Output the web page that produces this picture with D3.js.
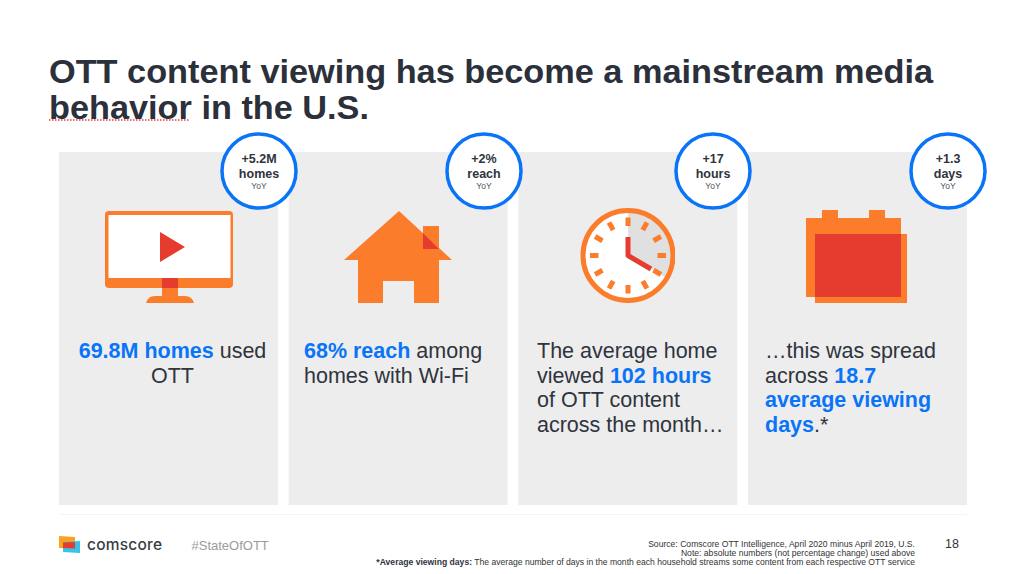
<!DOCTYPE html>
<html>
<head>
<meta charset="utf-8">
<script src="https://cdn.jsdelivr.net/npm/d3@7"></script>
<style>
html, body { margin: 0; padding: 0; background: #fff; }
text { font-family: "Liberation Sans", Arial, sans-serif; }
</style>
</head>
<body>
<script>
var titleLines = ["OTT content viewing has become a mainstream media", "behavior in the U.S."];
var cardIds = ["homes", "reach", "hours", "days"];
var deltaValues = ["+5.2M", "+2%", "+17", "+1.3"];
var deltaUnits = ["homes", "reach", "hours", "days"];
var deltaPeriod = "YoY";
// 正文: 每行是若干片段, 1 表示蓝色粗体
var bodyLines = [
    [[["69.8M homes", 1], [" used", 0]], [["OTT", 0]]],
    [[["68% reach", 1], [" among", 0]], [["homes with Wi-Fi", 0]]],
    [[["The average home", 0]], [["viewed ", 0], ["102 hours", 1]], [["of OTT content", 0]], [["across the month…", 0]]],
    [[["…this was spread", 0]], [["across ", 0], ["18.7", 1]], [["average viewing", 1]], [["days", 1], [".*", 0]]]
];
var clockTicks = d3.range(12);
var sourceLines = [
    "Source: Comscore OTT Intelligence, April 2020 minus April 2019, U.S.",
    "Note: absolute numbers (not percentage change) used above"
];
var orange = "#fb7d2b", red = "#e63c30", blue = "#0a74f8", ink = "#2f343d", grey = "#ededed";

var svg = d3.select("body").append("svg").attr("width", 1024).attr("height", 574)
    .style("display", "block");

// 标题
svg.selectAll("text.title").data(titleLines).enter().append("text")
    .attr("class", "title")
    .attr("x", 49)
    .attr("y", function(d, i) { return 83 + i * 36; })
    .attr("font-size", 34)
    .attr("font-weight", "bold")
    .attr("fill", "#2b303b")
    .attr("lengthAdjust", "spacingAndGlyphs")
    .attr("textLength", function(d, i) { return i == 0 ? 884 : 320; })
    .text(function(d) { return d; });

// 拼写检查的红色虚线
svg.append("line").attr("x1", 49).attr("x2", 189).attr("y1", 120).attr("y2", 120)
    .attr("stroke", "#e8404a").attr("stroke-width", 1.5).attr("stroke-dasharray", "1.5 1.5");

// 卡片
var x = d3.scaleBand().domain(cardIds).range([59, 967]).paddingInner(0.0465);
var cards = svg.selectAll("g.card").data(cardIds).enter().append("g").attr("class", "card");
cards.append("rect")
    .attr("x", function(d) { return x(d); })
    .attr("y", 152)
    .attr("width", x.bandwidth())
    .attr("height", 353)
    .attr("fill", grey);

svg.append("line").attr("x1", 59).attr("x2", 967).attr("y1", 514.5).attr("y2", 514.5)
    .attr("stroke", "#f4f4f4");

// 电视图标
function drawMonitor(g) {
    g.append("rect").attr("x", 105).attr("y", 211).attr("width", 128).attr("height", 77).attr("rx", 4).attr("fill", orange);
    g.append("rect").attr("x", 108.5).attr("y", 215).attr("width", 122).attr("height", 63).attr("fill", "#fff");
    g.append("rect").attr("x", 162).attr("y", 278).attr("width", 16).attr("height", 10).attr("fill", red);
    g.append("rect").attr("x", 162).attr("y", 288).attr("width", 16).attr("height", 9).attr("fill", orange);
    g.append("path").attr("d", "M146,303 Q148,296 155,296 H185 Q192,296 194,303 Z").attr("fill", orange);
    g.append("path").attr("d", "M160,232 L185,247 L160,262 Z").attr("fill", red);
}

// 房子图标
function drawHouse(g) {
    g.append("rect").attr("x", 423).attr("y", 226).attr("width", 16).attr("height", 23).attr("fill", orange);
    g.append("path")
        .attr("d", "M399,211 L452,260 H439 V303 H414 V281 H383 V303 H358 V260 H344 Z")
        .attr("fill", orange);
    g.append("path").attr("d", "M423,233 L439,249 H423 Z").attr("fill", red);
}

// 时钟图标
function drawClock(g) {
    var cx = 628, cy = 255.5;
    g.append("clipPath").attr("id", "clockClip").append("rect")
        .attr("x", 570).attr("y", 200).attr("width", 105).attr("height", 110);
    var face = g.append("g").attr("clip-path", "url(#clockClip)");
    face.append("circle").attr("cx", cx).attr("cy", cy).attr("r", 45).attr("fill", "#fff");
    face.append("path")
        .attr("transform", "translate(" + cx + "," + cy + ")")
        .attr("d", d3.arc().innerRadius(0).outerRadius(45).startAngle(0).endAngle(Math.PI * 2 / 3)())
        .attr("fill", "#dfe0df");
    face.append("circle").attr("cx", cx).attr("cy", cy).attr("r", 45).attr("fill", "none")
        .attr("stroke", orange).attr("stroke-width", 5);
    face.selectAll("rect.tick").data(clockTicks).enter().append("rect")
        .attr("class", "tick")
        .attr("x", -2.5).attr("y", -38).attr("width", 5).attr("height", 8.5)
        .attr("fill", orange)
        .attr("transform", function(d) { return "translate(" + cx + "," + cy + ") rotate(" + d * 30 + ")"; });
    face.append("path").attr("d", "M628,237 V255.5 L651,269").attr("fill", "none")
        .attr("stroke", red).attr("stroke-width", 5).attr("stroke-linejoin", "round");
}

// 日历图标
function drawCalendar(g) {
    g.append("path")
        .attr("d", "M806,218 H822 V210 H838 V218 H869 V210 H885 V218 H901 V297 H806 Z")
        .attr("fill", orange);
    g.append("rect").attr("x", 815).attr("y", 234).attr("width", 92).attr("height", 69).attr("fill", orange);
    g.append("rect").attr("x", 815).attr("y", 234).attr("width", 86).attr("height", 63).attr("fill", red);
}

var icons = [drawMonitor, drawHouse, drawClock, drawCalendar];
cards.each(function(d, i) { icons[i](d3.select(this)); });

// 正文, 第一张卡片是居中的
var textX = [172.5, 304, 537, 765];
var textAnchor = ["middle", "start", "start", "start"];
cards.each(function(d, i) {
    var lines = d3.select(this).selectAll("text.body").data(bodyLines[i]).enter().append("text")
        .attr("class", "body")
        .attr("x", textX[i])
        .attr("y", function(l, j) { return 358 + j * 24.7; })
        .attr("font-size", 21.5)
        .attr("text-anchor", textAnchor[i])
        .style("white-space", "pre");
    lines.selectAll("tspan").data(function(l) { return l; }).enter().append("tspan")
        .attr("fill", function(s) { return s[1] ? blue : ink; })
        .attr("font-weight", function(s) { return s[1] ? "bold" : "normal"; })
        .text(function(s) { return s[0]; });
});

// 同比圆圈
var circleX = [259, 484, 713, 948];
var badges = svg.selectAll("g.badge").data(cardIds).enter().append("g").attr("class", "badge")
    .attr("transform", function(d, i) { return "translate(" + circleX[i] + ",171)"; });
badges.append("circle").attr("r", 37).attr("fill", "#fff").attr("stroke", blue).attr("stroke-width", 3.5);
badges.append("text").attr("text-anchor", "middle").attr("y", -8)
    .attr("font-size", 12.5).attr("font-weight", "bold").attr("fill", ink)
    .text(function(d, i) { return deltaValues[i]; });
badges.append("text").attr("text-anchor", "middle").attr("y", 7)
    .attr("font-size", 12.5).attr("font-weight", "bold").attr("fill", ink)
    .text(function(d, i) { return deltaUnits[i]; });
badges.append("text").attr("text-anchor", "middle").attr("y", 18)
    .attr("font-size", 8.5).attr("fill", "#555")
    .text(deltaPeriod);

// 页脚 logo
svg.append("path").attr("d", "M59,536 L75,537 V549 L59,548 Z").attr("fill", "#fba31f");
svg.append("path").attr("d", "M63,542 L80,541 V553 L63,552 Z").attr("fill", "#35c3ea");
svg.append("path").attr("d", "M63,542.5 L75,542 V548.5 L63,548 Z").attr("fill", red);
svg.append("text").attr("x", 87).attr("y", 549.5).attr("font-size", 15.5)
    .attr("fill", "#3a3d42").attr("font-weight", 500).attr("textLength", 75)
    .style("font-family", "Inter").text("comscore");
svg.append("text").attr("x", 191.5).attr("y", 549.5).attr("font-size", 13)
    .attr("fill", "#9b9b9b").text("#StateOfOTT");

// 页脚来源
svg.selectAll("text.source").data(sourceLines).enter().append("text")
    .attr("class", "source")
    .attr("x", 915)
    .attr("y", function(d, i) { return 547 + i * 9; })
    .attr("text-anchor", "end")
    .attr("font-size", 8.6)
    .attr("fill", "#333")
    .text(function(d) { return d; });
var note = svg.append("text").attr("x", 915).attr("y", 565).attr("text-anchor", "end")
    .attr("font-size", 8.6).attr("fill", "#333");
note.append("tspan").attr("font-weight", "bold").attr("fill", ink).text("*Average viewing days:");
note.append("tspan").text(" The average number of days in the month each household streams some content from each respective OTT service");

svg.append("text").attr("x", 945).attr("y", 548).attr("font-size", 12.5)
    .attr("fill", "#333").text("18");
</script>
</body>
</html>
